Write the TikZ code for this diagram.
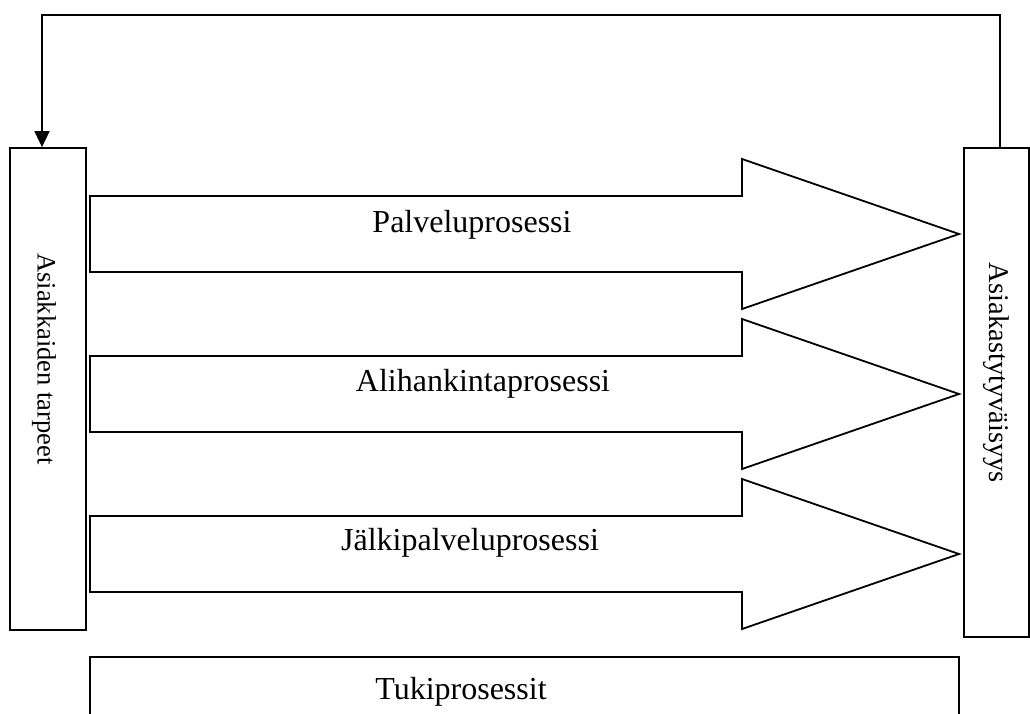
\documentclass[tikz,border=0pt]{standalone}
\usepackage{fontspec}
\setmainfont{Liberation Serif}
\usetikzlibrary{arrows.meta}
\begin{document}
\begin{tikzpicture}[x=1pt,y=-1pt,
  outline/.style={draw=black,line width=1.8pt,line join=miter},
  label/.style={font=\fontsize{32}{32}\selectfont,inner sep=0pt},
  sidelabel/.style={font=\fontsize{#1}{#1}\selectfont,inner sep=0pt,rotate=-90},
  blockarrow/.style={outline,fill=white}]
\useasboundingbox (0,0) rectangle (1030,713);
\clip (0,0) rectangle (1030,713);

% customer needs and satisfaction columns
\node[outline,minimum width=76pt,minimum height=482pt,inner sep=0pt] (needs) at (48,389) {};
\node[outline,minimum width=65pt,minimum height=489pt,inner sep=0pt] (satis) at (996.5,392.5) {};
\node[sidelabel=26.5] (needstext) at (44,359) {Asiakkaiden tarpeet};
\node[sidelabel=28.5] (satistext) at (996,373) {Asiakastytyväisyys};

% feedback loop from satisfaction back to needs
\coordinate (loopR) at (1000,15);
\coordinate (loopL) at (42,15);
\draw[line width=1.8pt,-{Triangle[width=15pt,length=16pt]}]
  ([xshift=3.5pt]satis.north) -- (loopR) -- (loopL) -- ([xshift=-6pt]needs.north);

% process block arrows
\foreach \n/\c in {p1/234, p2/394, p3/554}{
  \draw[blockarrow] (90,\c-38) -- (742,\c-38) -- (742,\c-75) -- (959,\c)
    -- (742,\c+75) -- (742,\c+38) -- (90,\c+38) -- cycle;
  \coordinate (\n) at (475,\c);
}
\node[label,anchor=base] (t1) at (472,232) {Palveluprosessi};
\node[label,anchor=base] (t2) at (483,391) {Alihankintaprosessi};
\node[label,anchor=base] (t3) at (470,550) {Jälkipalveluprosessi};

% support processes
\draw[outline] (90,740) -- (90,657) -- (959,657) -- (959,740);
\node[label,anchor=base] (support) at (461,699) {Tukiprosessit};
\end{tikzpicture}
\end{document}
